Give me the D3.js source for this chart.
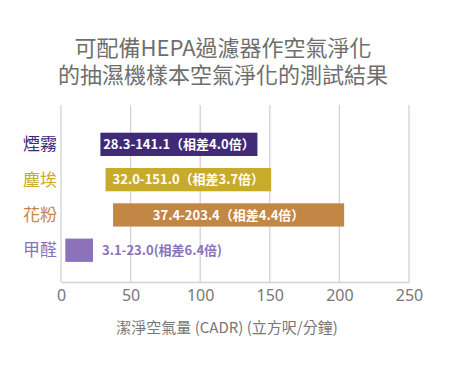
<!DOCTYPE html>
<html>
<head>
<meta charset="utf-8">
<script src="https://cdn.jsdelivr.net/npm/d3@7"></script>
<style>
  body { margin: 0; background: #fff; }
  text { font-family: "Noto Sans CJK TC", "Noto Sans", sans-serif; }
</style>
</head>
<body>
<script>
// 抽濕機空氣淨化測試 -- floating bar chart

//data
var categories = ["煙霧", "塵埃", "花粉", "甲醛"];
var minValues = [28.3, 32.0, 37.4, 3.1];
var maxValues = [141.1, 151.0, 203.4, 23.0];
var barLabels = ["28.3-141.1（相差4.0倍）", "32.0-151.0（相差3.7倍）", "37.4-203.4（相差4.4倍）", "3.1-23.0(相差6.4倍)"];
var colors = ["#3f2a78", "#c9ab2b", "#c38745", "#8b72ba"];
var tickValues = [0, 50, 100, 150, 200, 250];
var titleLines = ["可配備HEPA過濾器作空氣淨化", "的抽濕機樣本空氣淨化的測試結果"];
var xTitle = "潔淨空氣量 (CADR) (立方呎/分鐘)";

var width = 450, height = 366;

var svg = d3.select("body")
    .append("svg")
    .attr("width", width)
    .attr("height", height);

var x = d3.scaleLinear()
    .domain([0, 250])
    .range([61, 409]);

var y = d3.scaleBand()
    .domain(categories)
    .range([120.7, 273.9])
    .padding(0.34);

//title
svg.selectAll(".title")
    .data(titleLines)
    .enter()
    .append("text")
    .attr("class", "title")
    .attr("x", 223)
    .attr("y", function(d, i){ return 56 + i * 27; })
    .attr("text-anchor", "middle")
    .style("font-size", "22px")
    .style("fill", "#6e6e6e")
    .text(function(d){ return d; });

//gridlines
svg.selectAll(".grid")
    .data(tickValues)
    .enter()
    .append("line")
    .attr("x1", function(d){ return x(d); })
    .attr("x2", function(d){ return x(d); })
    .attr("y1", 105)
    .attr("y2", 282)
    .style("stroke", "#d2d2d2")
    .style("stroke-width", 1.3);

//axis
var xAxis = d3.axisBottom(x)
    .tickValues(tickValues)
    .tickSize(0)
    .tickPadding(8);

var axisG = svg.append("g")
    .attr("transform", "translate(0,282)")
    .call(xAxis);
axisG.select(".domain").style("stroke", "#d2d2d2").style("stroke-width", 1.3);
axisG.selectAll("text")
    .style("font-size", "16px")
    .style("fill", "#777")
    .style("font-family", "\"Noto Sans\", sans-serif");

svg.append("text")
    .attr("x", 227)
    .attr("y", 333)
    .attr("text-anchor", "middle")
    .style("font-size", "15px")
    .style("fill", "#777")
    .text(xTitle);

//category labels
svg.selectAll(".cat")
    .data(categories)
    .enter()
    .append("text")
    .attr("x", 57)
    .attr("y", function(d){ return y(d) + y.bandwidth() / 2; })
    .attr("dy", "0.36em")
    .attr("text-anchor", "end")
    .style("font-size", "17px")
    .style("fill", function(d, i){ return colors[i]; })
    .text(function(d){ return d; });

//bars
svg.selectAll(".bar")
    .data(categories)
    .enter()
    .append("rect")
    .attr("x", function(d, i){ return x(minValues[i]); })
    .attr("width", function(d, i){ return x(maxValues[i]) - x(minValues[i]); })
    .attr("y", function(d){ return y(d); })
    .attr("height", y.bandwidth())
    .style("fill", function(d, i){ return colors[i]; });

//bar labels
svg.selectAll(".blabel")
    .data(categories)
    .enter()
    .append("text")
    .attr("x", function(d, i){
        if (i == 3) return x(maxValues[i]) + 9;
        return (x(minValues[i]) + x(maxValues[i])) / 2;
    })
    .attr("y", function(d){ return y(d) + y.bandwidth() / 2; })
    .attr("dy", "0.36em")
    .attr("text-anchor", function(d, i){ return i == 3 ? "start" : "middle"; })
    .style("font-size", "13px")
    .style("font-weight", "bold")
    .style("fill", function(d, i){ return i == 3 ? colors[i] : "#fff"; })
    .text(function(d, i){ return barLabels[i]; });
</script>
</body>
</html>
